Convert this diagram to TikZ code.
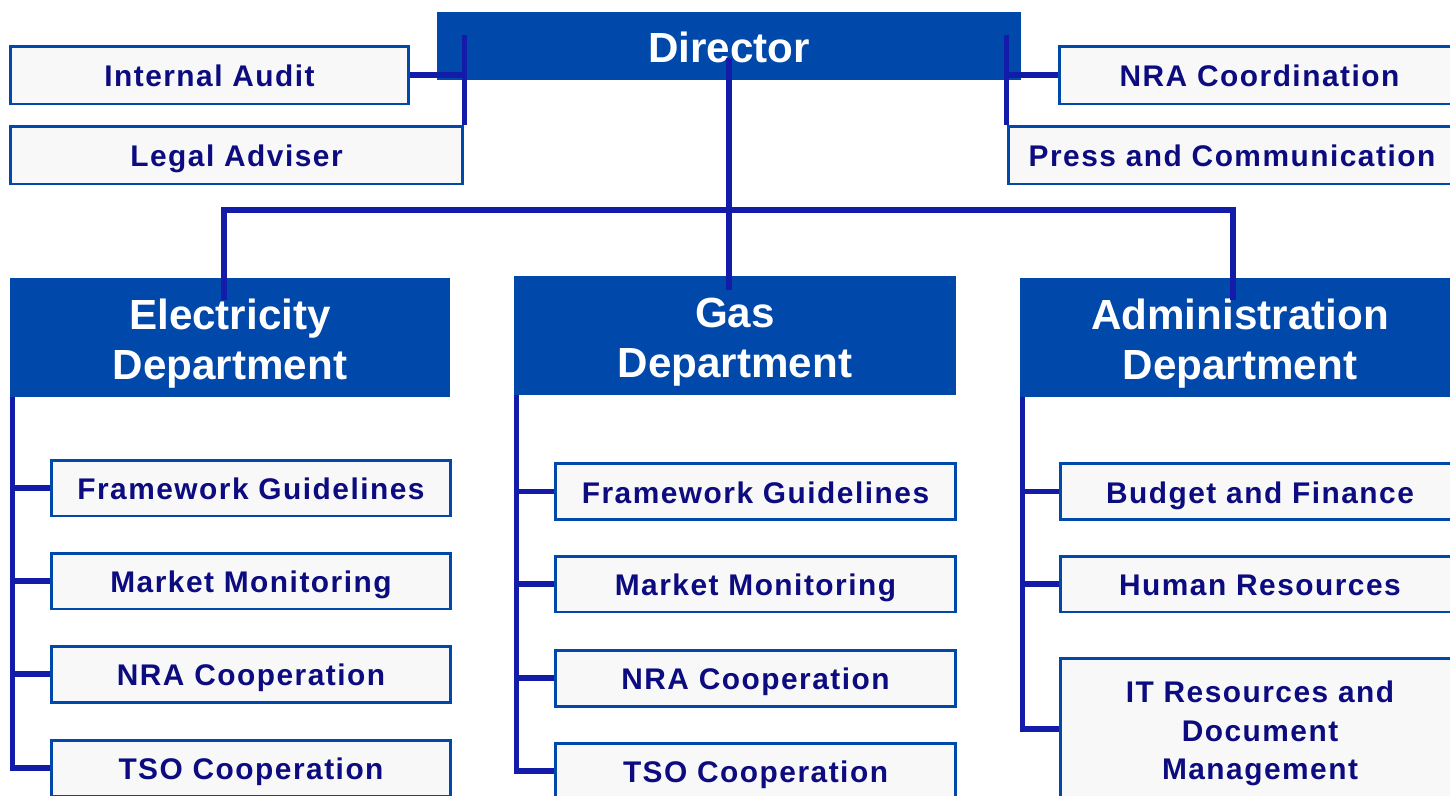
\documentclass[tikz,border=0pt]{standalone}
\usepackage{fontspec}
\setmainfont{Liberation Sans}

\definecolor{headblue}{RGB}{0,72,170}
\definecolor{linkblue}{RGB}{18,28,168}
\definecolor{textnavy}{RGB}{12,12,128}
\definecolor{boxgray}{RGB}{248,248,248}

\tikzset{
	head/.style={fill=headblue, text=white, align=center, inner sep=0pt,
		font=\bfseries\fontsize{24}{28.3}\selectfont},
	dept/.style={head, minimum width=8.8cm, minimum height=2.38cm, text height=48pt, text depth=0pt},
	unit/.style={draw=headblue, line width=1.7pt, fill=boxgray, text=textnavy,
		align=center, inner sep=0pt, minimum width=8cm, minimum height=1.12cm,
		text height=13.5pt, text depth=0pt,
		font=\addfontfeatures{LetterSpace=5}\bfseries\fontsize{17}{22}\selectfont},
	link/.style={draw=linkblue, line width=3pt},
}

\begin{document}
\begin{tikzpicture}[x=0.02cm,y=-0.02cm]
	\useasboundingbox (0,0) rectangle (1450,795);
	\fill[white] (0,0) rectangle (1450,795);
	
	\node (dir) [head, minimum width=11.68cm, minimum height=1.36cm, text height=19pt, text depth=0pt] at (729,46) {Director};
	\node (audit) [unit, minimum width=7.98cm, minimum height=1.16cm] at (209.5,75) {Internal Audit};
	\node (legal) [unit, minimum width=9.06cm, minimum height=1.16cm] at (236.5,155) {Legal Adviser};
	\node (nra) [unit, minimum width=8.02cm, minimum height=1.16cm] at (1259.5,75) {NRA Coordination};
	\node (press) [unit, minimum width=8.96cm, minimum height=1.16cm] at (1232,155) {Press and Communication};
	
	\node (elec) [dept] at (230,337.5) {Electricity\\Department};
	\node (gas) [dept, minimum width=8.84cm] at (735,335.5) {Gas\\Department};
	\node (admin) [dept] at (1240,337.5) {Administration\\Department};
	
	\foreach \y/\t [count=\i] in {488/Framework Guidelines,581/Market Monitoring,674/NRA Cooperation,768/TSO Cooperation}{
		\node (e\i) [unit] at (251,\y) {\t};
	}
	\foreach \y/\t [count=\i] in {491.5/Framework Guidelines,584/Market Monitoring,678/NRA Cooperation,771/TSO Cooperation}{
		\node (g\i) [unit] at (755.5,\y) {\t};
	}
	\node (a1) [unit] at (1260,491.5) {Budget and Finance};
	\node (a2) [unit] at (1260,584) {Human Resources};
	\node (a3) [unit, minimum height=2.84cm, text height=57.8pt, text depth=0pt] at (1260,729) {IT Resources and\\Document\\Management};
	
	% staff units
	\draw[link] (audit.east) -- (audit.east -| legal.north east);
	\draw[link] (legal.north east) -- ++(0,-90);
	\draw[link] (nra.west) -- (nra.west -| press.north west);
	\draw[link] (press.north west) -- ++(0,-90);
	
	% departments
	\coordinate (bus) at (728,210);
	\coordinate (dtop) at ([yshift=0.45cm]dir.south);
	\draw[link] (dtop) -- (dtop |- gas.north) -- ++(0,14);
	\draw[link] ([xshift=-0.12cm,yshift=-0.45cm]elec.north) |- (bus) -| ([xshift=-0.14cm,yshift=-0.45cm]admin.north);
	
	\coordinate (espine) at ([xshift=0.05cm]elec.south west);
	\coordinate (gspine) at ([xshift=0.05cm]gas.south west);
	\coordinate (aspine) at ([xshift=0.05cm]admin.south west);
	\draw[link] (espine) |- (e4.west);
	\draw[link] (gspine) |- (g4.west);
	\draw[link] (aspine) |- (a3.west);
	\foreach \i in {1,...,3}{
		\draw[link] (e\i.west) -- (e\i.west -| espine);
		\draw[link] (g\i.west) -- (g\i.west -| gspine);
	}
	\foreach \i in {1,2}
	\draw[link] (a\i.west) -- (a\i.west -| aspine);
	
\end{tikzpicture}
\end{document}
